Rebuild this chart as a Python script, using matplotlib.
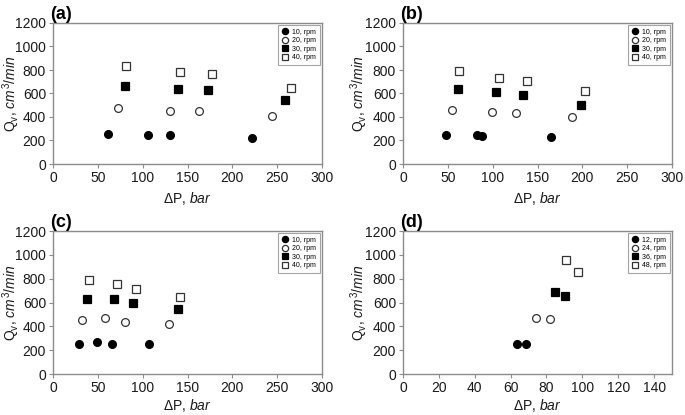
import matplotlib
matplotlib.use("Agg")
import matplotlib.pyplot as plt

plt.rcParams['font.family'] = ['Liberation Sans', 'DejaVu Sans']
plt.rcParams['mathtext.fontset'] = 'custom'
plt.rcParams['mathtext.rm'] = 'Liberation Sans'
plt.rcParams['mathtext.it'] = 'Liberation Sans:italic'
plt.rcParams['mathtext.bf'] = 'Liberation Sans:bold'

# Panel (a)
a_labels = ["10, rpm", "20, rpm", "30, rpm", "40, rpm"]
a_x = [[61.5, 106, 131, 222], [72, 130, 163, 244], [80.5, 139, 172.5, 259], [81, 142, 177, 265]]
a_y = [[257, 246, 246, 220], [474, 452, 452, 407], [666, 635, 627, 542], [836, 785, 762, 647]]
# Panel (b)
b_labels = ["10, rpm", "20, rpm", "30, rpm", "40, rpm"]
b_x = [[48.5, 82.5, 87.6, 165], [55, 99, 126, 189], [61, 104, 134, 199], [63, 107, 138, 203]]
b_y = [[251, 251, 237, 226], [460, 446, 435, 401], [635, 615, 590, 505], [793, 734, 709, 618]]
# Panel (c)
c_labels = ["10, rpm", "20, rpm", "30, rpm", "40, rpm"]
c_x = [[28.7, 49.6, 66, 107], [32.4, 58, 80.5, 129], [37.6, 68, 89.5, 139], [40, 71, 93, 142]]
c_y = [[248, 268, 254, 248], [450, 466, 439, 422], [629, 629, 599, 549], [786, 759, 717, 643]]
# Panel (d)
d_labels = ["12, rpm", "24, rpm", "36, rpm", "48, rpm"]
d_x = [[63.3, 68.7], [74.3, 81.9], [84.8, 90.2], [90.7, 97.8]]
d_y = [[254, 248], [469, 463], [687, 657], [953, 853]]

panel_tags = ["(a)", "(b)", "(c)", "(d)"]
x_ticks = [[0, 50, 100, 150, 200, 250, 300]] * 3 + [[0, 20, 40, 60, 80, 100, 120, 140]]
x_lims = [300, 300, 300, 150]
y_ticks = [0, 200, 400, 600, 800, 1000, 1200]

styles = [dict(marker='o', mfc='black', mec='black'),
          dict(marker='o', mfc='white', mec='#333333'),
          dict(marker='s', mfc='black', mec='black'),
          dict(marker='s', mfc='white', mec='#333333')]

W, H = 685, 415
fig = plt.figure(figsize=(W / 100, H / 100), dpi=100)
boxes = [(53, 23, 322, 164), (403, 23, 672, 164), (53, 231, 322, 374), (403, 231, 672, 374)]
ylab_x = [11, 359, 11, 359]
xlab_y = [198, 198, 405, 405]
panels = [(a_labels, a_x, a_y), (b_labels, b_x, b_y), (c_labels, c_x, c_y), (d_labels, d_x, d_y)]
spine_col = '#8c8c8c'
txt_col = '#1a1a1a'

for i, ((l, t, r, b), (labels, xs, ys)) in enumerate(zip(boxes, panels)):
    ax = fig.add_axes([l / W, 1 - b / H, (r - l) / W, (b - t) / H])
    for lab, xv, yv, st in zip(labels, xs, ys, styles):
        ax.plot(xv, yv, linestyle='none', markersize=5.6 if st['marker'] == 'o' else 5.2,
                markeredgewidth=0.9, label=lab, **st)
    ax.set_xlim(0, x_lims[i])
    ax.set_ylim(0, 1200)
    ax.set_xticks(x_ticks[i])
    ax.set_yticks(y_ticks)
    for s in ax.spines.values():
        s.set_color(spine_col)
        s.set_linewidth(1.0)
    ax.tick_params(direction='out', length=3, width=0.8, color=spine_col,
                   labelsize=10, labelcolor=txt_col, pad=2)
    ax.set_xlabel(r"$\Delta$P, $\it{bar}$", fontsize=10, color=txt_col)
    ax.set_ylabel(r"Q$_\mathregular{v}$, $\it{cm^3/min}$", fontsize=10, color=txt_col)
    ax.xaxis.set_label_coords(0.5, (b - xlab_y[i]) / (b - t))
    ax.xaxis.label.set_va('center')
    ax.yaxis.set_label_coords((ylab_x[i] - l) / (r - l), 0.5)
    ax.yaxis.label.set_va('center')
    ax.text(-0.01, 1.0, panel_tags[i], transform=ax.transAxes, fontsize=13,
            fontweight='bold', ha='left', va='bottom')
    leg = ax.legend(loc='upper right', fontsize=5, frameon=True, fancybox=False,
                    borderpad=0.6, handletextpad=0.6, labelspacing=0.2,
                    handlelength=0.9, borderaxespad=0.25, markerscale=0.8)
    leg.get_frame().set_edgecolor('#8c8c8c')
    leg.get_frame().set_linewidth(0.8)

fig.savefig("out.png", dpi=100)
